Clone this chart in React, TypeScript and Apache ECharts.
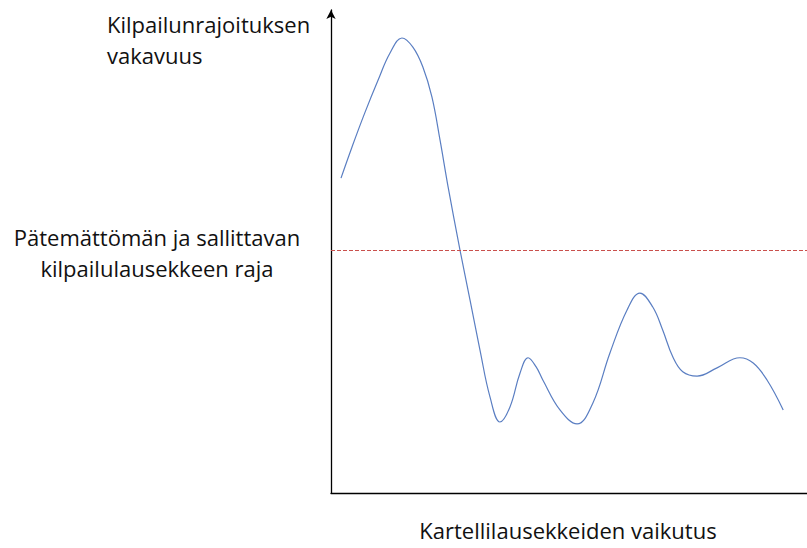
import React, { useEffect, useRef } from "react";
import * as echarts from "echarts";

const curveX = [2.1, 4.4, 7.1, 9.9, 12.4, 14.9, 17.2, 19.3, 21.2, 22.9, 24.6, 27.1, 29.2, 31.3, 33.4, 35.5, 37.6, 39.7, 41.4, 43.1, 44.5, 48.1, 51.7, 55.0, 58.6, 62.2, 64.9, 67.6, 69.7, 71.8, 73.9, 76.9, 81.1, 85.9, 88.7, 91.6, 95.0];
const curveY = [65.2, 71.6, 78.7, 85.5, 91.1, 94.2, 92.3, 88.2, 82.0, 73.1, 63.4, 50.3, 40.0, 29.6, 19.9, 14.7, 17.8, 24.8, 28.0, 26.1, 23.4, 17.2, 14.3, 18.6, 29.0, 37.9, 41.4, 38.5, 33.7, 28.2, 25.1, 24.2, 25.9, 28.0, 26.9, 23.4, 17.2];
const thresholdValue = 50.3;
const yAxisTitle = ["Kilpailunrajoituksen", "vakavuus"];
const thresholdLabel = ["Pätemättömän ja sallittavan", "kilpailulausekkeen raja"];
const xAxisTitle = "Kartellilausekkeiden vaikutus";

const FONT = "Open Sans";

export default function App() {
  const ref = useRef<HTMLDivElement>(null);
  useEffect(() => {
    if (!ref.current) return;
    const chart = echarts.init(ref.current, undefined, { renderer: "svg" });
    chart.setOption({
      animation: false,
      backgroundColor: "#ffffff",
      grid: { left: 331, right: 0, top: 10, bottom: 55 },
      xAxis: {
        type: "value",
        min: 0,
        max: 100,
        axisLine: {
          show: true,
          lineStyle: { color: "#000", width: 1.3 },
          symbol: ["none", "arrow"],
          symbolSize: [7, 9],
          symbolOffset: [0, 10],
        },
        axisTick: { show: false },
        axisLabel: { show: false },
        splitLine: { show: false },
      },
      yAxis: {
        type: "value",
        min: 0,
        max: 100,
        axisLine: { show: true, lineStyle: { color: "#000", width: 1.3 }, symbol: ["none", "arrow"], symbolSize: [7, 9] },
        axisTick: { show: false },
        axisLabel: { show: false },
        splitLine: { show: false },
      },
      series: [
        {
          type: "line",
          data: curveX.map((x, i) => [x, curveY[i]]),
          smooth: 0.4,
          showSymbol: false,
          lineStyle: { color: "#5a7ec2", width: 1.2 },
          markLine: {
            silent: true,
            symbol: "none",
            label: { show: false },
            lineStyle: { color: "#c9504d", type: [4, 2], width: 1 },
            data: [{ yAxis: thresholdValue }],
          },
        },
      ],
      graphic: [
        {
          type: "text",
          left: 107,
          top: 8,
          style: { text: yAxisTitle.join("\n"), font: `22px "${FONT}"`, fill: "#111", lineHeight: 31 },
        },
        {
          type: "text",
          x: 157,
          y: 252,
          style: {
            text: thresholdLabel.join("\n"),
            font: `22px "${FONT}"`,
            fill: "#111",
            lineHeight: 31,
            align: "center",
            verticalAlign: "middle",
          },
        },
        {
          type: "text",
          x: 568,
          y: 530,
          style: { text: xAxisTitle, font: `22px "${FONT}"`, fill: "#111", align: "center", verticalAlign: "middle" },
        },
      ],
    });
    return () => chart.dispose();
  }, []);
  return <div ref={ref} style={{ width: 807, height: 548, position: "absolute", left: 0, top: 0 }} />;
}
